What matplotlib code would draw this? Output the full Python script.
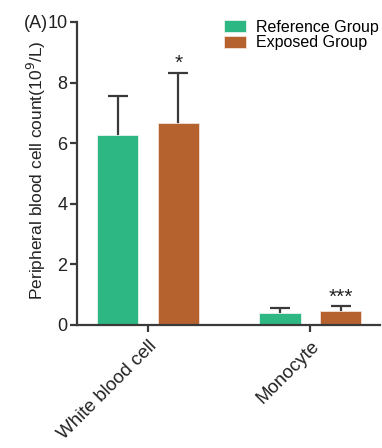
import matplotlib.pyplot as plt
import numpy as np

plt.rcParams['font.family'] = ['Liberation Sans', 'DejaVu Sans']

categories = ["White blood cell", "Monocyte"]
reference_mean = [6.27, 0.40]
reference_sd = [1.27, 0.16]
exposed_mean = [6.68, 0.47]
exposed_sd = [1.65, 0.16]
exposed_marks = ["*", "***"]

green = "#2db883"
brown = "#b5622f"
dark = "#3a3a3a"
text_col = "#222222"

fig = plt.figure(figsize=(3.82, 4.48), dpi=100)
ax = fig.add_axes([0.2016, 0.2746, 0.7934, 0.6764])

x = np.arange(len(categories))
w = 0.255
off = 0.187

ax.bar(x - off, reference_mean, w, color=green, edgecolor="#e8f5ee", linewidth=0.6,
       label="Reference Group", zorder=2)
ax.bar(x + off, exposed_mean, w, color=brown, edgecolor="#f3e3d8", linewidth=0.6,
       label="Exposed Group", zorder=2)

# symmetric bars drawn behind the columns, so only the upper half shows
ax.errorbar(x - off, reference_mean, yerr=reference_sd, fmt="none",
            ecolor=dark, elinewidth=1.6, capsize=7, capthick=1.6, zorder=1)
ax.errorbar(x + off, exposed_mean, yerr=exposed_sd, fmt="none",
            ecolor=dark, elinewidth=1.6, capsize=7, capthick=1.6, zorder=1)

for xi, m, s, lab in zip(x + off, exposed_mean, exposed_sd, exposed_marks):
    ax.text(xi, m + s - 0.02, lab, ha="center", va="bottom", fontsize=15, color=text_col)

ax.set_xlim(-0.438, 1.43)
ax.set_ylim(0, 10)
ax.set_yticks([0, 2, 4, 6, 8, 10])
ax.set_yticklabels(["0", "2", "4", "6", "8", "10"])
ax.set_xticks(x)
ax.set_xticklabels(categories, rotation=45, ha="right", rotation_mode="anchor", fontsize=13.5)
ax.tick_params(axis="y", labelsize=13, length=5, width=1.6, color=dark, labelcolor=text_col, pad=2)
ax.tick_params(axis="x", length=5, width=1.6, color=dark, labelcolor=text_col, pad=4)

for side in ["top", "right"]:
    ax.spines[side].set_visible(False)
for side in ["left", "bottom"]:
    ax.spines[side].set_linewidth(1.6)
    ax.spines[side].set_color(dark)

ax.set_ylabel("Peripheral blood cell count(10$^9$/L)", fontsize=12.5, color=text_col)
ax.yaxis.set_label_coords(-0.097, 0.51)
fig.text(0.062, 0.947, "(A)", fontsize=13, ha="left", va="center", color=text_col)

ax.legend(loc="upper left", bbox_to_anchor=(0.485, 1.008), frameon=False, fontsize=11.5,
          handlelength=1.4, handleheight=0.75, labelspacing=0.05, handletextpad=0.6,
          borderaxespad=0, borderpad=0)

fig.savefig("out.png", dpi=100)
